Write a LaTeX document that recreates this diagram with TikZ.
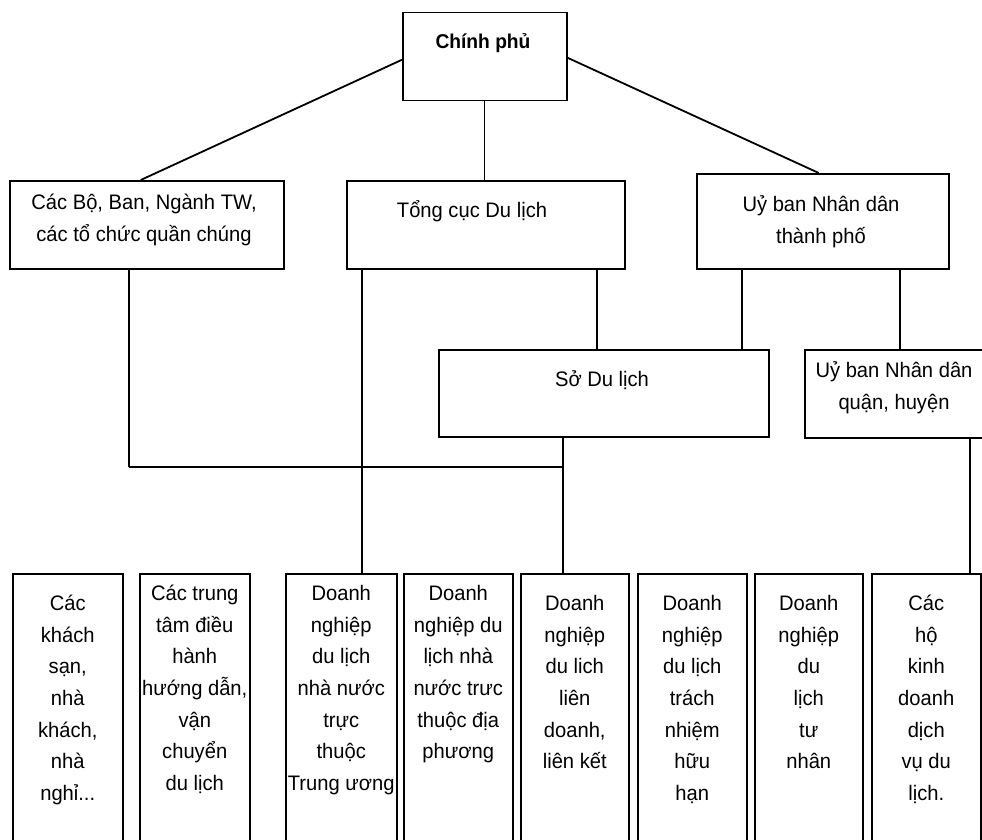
\documentclass[tikz,border=0pt]{standalone}
\usepackage{fontspec}
\setmainfont[FakeStretch=0.96]{Liberation Sans}
\begin{document}
\begin{tikzpicture}[x=1pt,y=-1pt,
  box/.style={draw,line width=1.5pt,rectangle,inner sep=0pt,anchor=north west},
  txt/.style={align=center,inner sep=0pt,font=\fontsize{21}{31.7}\selectfont},
  conn/.style={line width=1.1pt},
  diag/.style={line width=1.8pt},
  heavy/.style={line width=2.2pt}]
\clip (0,0) rectangle (982,840);
\fill[white] (0,0) rectangle (982,840);
% top level
\node[box,minimum width=164,minimum height=88] (cp) at (402,12) {};
\node[txt,anchor=base,font=\fontsize{20}{31.7}\selectfont\bfseries] (cpt) at (483,49) {Chính phủ};
% second level
\node[box,minimum width=274,minimum height=88] (bo) at (9,180) {};
\node[txt,anchor=north] (bot) at (144,187) {\strut Các Bộ, Ban, Ngành TW,\\các tổ chức quần chúng};
\node[box,minimum width=278,minimum height=88] (tc) at (346,180) {};
\node[txt,anchor=base] (tct) at (472,217) {Tổng cục Du lịch};
\node[box,minimum width=252,minimum height=95] (ub) at (696,173) {};
\node[txt,anchor=north] (ubt) at (821,189) {\strut Uỷ ban Nhân dân\\thành phố};
% third level
\node[box,minimum width=330,minimum height=87] (sd) at (438,349) {};
\node[txt,anchor=base] (sdt) at (602,386) {Sở Du lịch};
\node[box,minimum width=190,minimum height=88] (uq) at (804,349) {};
\node[txt,anchor=north] (uqt) at (894,355) {\strut Uỷ ban Nhân dân\\quận, huyện};
% bottom row
\node[box,minimum width=110,minimum height=300] (b1) at (12,573) {};
\node[box,minimum width=110,minimum height=300] (b2) at (139,573) {};
\node[box,minimum width=111,minimum height=300] (b3) at (285,573) {};
\node[box,minimum width=109,minimum height=300] (b4) at (403,573) {};
\node[box,minimum width=108,minimum height=300] (b5) at (520,573) {};
\node[box,minimum width=109,minimum height=300] (b6) at (637,573) {};
\node[box,minimum width=108,minimum height=300] (b7) at (754,573) {};
\node[box,minimum width=109,minimum height=300] (b8) at (871,573) {};
\node[txt,anchor=north] (b1t) at (b1.north |- 0,588) {\strut Các\\khách\\sạn,\\nhà\\khách,\\nhà\\nghỉ...};
\node[txt,anchor=north] (b2t) at (b2.north |- 0,578) {\strut Các trung\\tâm điều\\hành\\hướng dẫn,\\vận\\chuyển\\du lịch};
\node[txt,anchor=north] (b3t) at (b3.north |- 0,578) {\strut Doanh\\nghiệp\\du lịch\\nhà nước\\trực\\thuộc\\Trung ương};
\node[txt,anchor=north] (b4t) at (b4.north |- 0,578) {\strut Doanh\\nghiệp du\\lịch nhà\\nước trưc\\thuộc địa\\phương};
\node[txt,anchor=north] (b5t) at (b5.north |- 0,588) {\strut Doanh\\nghiệp\\du lich\\liên\\doanh,\\liên kết};
\node[txt,anchor=north] (b6t) at (b6.north |- 0,588) {\strut Doanh\\nghiệp\\du lịch\\trách\\nhiệm\\hữu\\hạn};
\node[txt,anchor=north] (b7t) at (b7.north |- 0,588) {\strut Doanh\\nghiệp\\du\\lịch\\tư\\nhân};
\node[txt,anchor=north] (b8t) at (b8.north |- 0,588) {\strut Các\\hộ\\kinh\\doanh\\dịch\\vụ du\\lịch.};
% connectors
\coordinate (j) at (563,467);
\draw[diag] ([yshift=-3pt]cp.west) -- ([xshift=-6pt]bo.north);
\draw[diag] ([yshift=-1pt]cp.east) -- ([xshift=-4pt]ub.north);
\draw[conn] (cp.south) -- (tc.north -| cp.south);
\draw[conn] (tc.south -| 597,0) -- (sd.north -| 597,0);
\draw[conn] (ub.south -| 742,0) -- (sd.north -| 742,0);
\draw[conn] (ub.south -| 900,0) -- (uq.north -| 900,0);
\draw[conn] (bo.south -| 129,0) -- (129,467);
\draw[heavy] (129,467) -- (j);
\draw[conn] (sd.south -| j) -- (j);
\draw[heavy] (j) -- (b5.north -| j);
\draw[conn] (tc.south -| 362,0) -- (362,467);
\draw[heavy] (362,467) -- (b3.north -| 362,0);
\draw[conn] (uq.south -| 970,0) -- (b8.north -| 970,0);
\end{tikzpicture}
\end{document}
